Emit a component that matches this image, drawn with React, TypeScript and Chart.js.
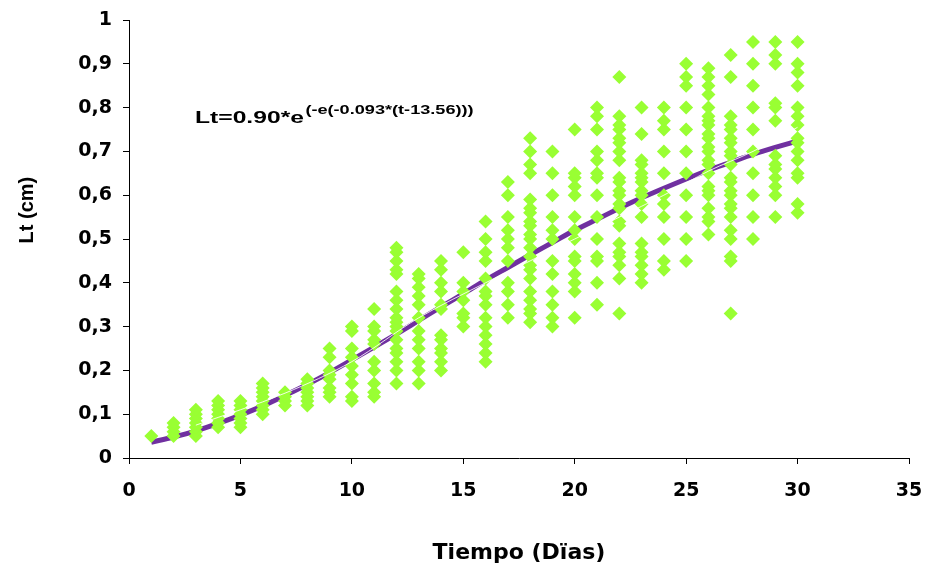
import React, { useEffect, useRef } from "react";
import { Chart, registerables } from "chart.js";

Chart.register(...registerables);

// ---- Data ----
const DAYS = [1, 2, 3, 4, 5, 6, 7, 8, 9, 10, 11, 12, 13, 14, 15, 16, 17, 18, 19, 20, 21, 22, 23, 24, 25, 26, 27, 28, 29, 30];

const day1 = [0.05];
const day2 = [0.05, 0.06, 0.07, 0.08];
const day3 = [0.05, 0.06, 0.07, 0.08, 0.09, 0.1, 0.11];
const day4 = [0.07, 0.08, 0.09, 0.1, 0.11, 0.12, 0.13];
const day5 = [0.07, 0.08, 0.09, 0.1, 0.11, 0.12, 0.13];
const day6 = [0.1, 0.11, 0.12, 0.13, 0.14, 0.15, 0.16, 0.17];
const day7 = [0.12, 0.13, 0.14, 0.15];
const day8 = [0.12, 0.13, 0.14, 0.15, 0.16, 0.17, 0.18];
const day9 = [0.14, 0.15, 0.16, 0.18, 0.19, 0.2, 0.23, 0.25];
const day10 = [0.13, 0.14, 0.17, 0.19, 0.21, 0.23, 0.25, 0.29, 0.3];
const day11 = [0.14, 0.15, 0.17, 0.2, 0.22, 0.26, 0.27, 0.29, 0.3, 0.34];
const day12 = [0.17, 0.2, 0.22, 0.24, 0.25, 0.27, 0.29, 0.3, 0.31, 0.32, 0.34, 0.36, 0.38, 0.42, 0.43, 0.45, 0.47, 0.48];
const day13 = [0.17, 0.2, 0.22, 0.25, 0.27, 0.29, 0.32, 0.35, 0.37, 0.39, 0.41, 0.42];
const day14 = [0.2, 0.22, 0.24, 0.25, 0.27, 0.28, 0.34, 0.35, 0.38, 0.4, 0.43, 0.45];
const day15 = [0.3, 0.32, 0.33, 0.36, 0.38, 0.4, 0.47];
const day16 = [0.22, 0.24, 0.26, 0.28, 0.3, 0.32, 0.35, 0.37, 0.38, 0.41, 0.45, 0.47, 0.5, 0.54];
const day17 = [0.32, 0.35, 0.38, 0.4, 0.45, 0.48, 0.5, 0.52, 0.55, 0.6, 0.63];
const day18 = [0.31, 0.33, 0.34, 0.36, 0.38, 0.41, 0.43, 0.44, 0.46, 0.48, 0.5, 0.51, 0.53, 0.54, 0.56, 0.57, 0.59, 0.65, 0.67, 0.7, 0.73];
const day19 = [0.3, 0.32, 0.35, 0.38, 0.42, 0.45, 0.5, 0.52, 0.55, 0.6, 0.65, 0.7];
const day20 = [0.32, 0.38, 0.4, 0.42, 0.45, 0.46, 0.5, 0.52, 0.55, 0.6, 0.62, 0.64, 0.65, 0.75];
const day21 = [0.35, 0.4, 0.45, 0.46, 0.5, 0.55, 0.6, 0.64, 0.65, 0.68, 0.7, 0.75, 0.78, 0.8];
const day22 = [0.33, 0.41, 0.44, 0.46, 0.47, 0.49, 0.53, 0.54, 0.57, 0.58, 0.6, 0.61, 0.63, 0.64, 0.68, 0.7, 0.72, 0.73, 0.75, 0.76, 0.78, 0.87];
const day23 = [0.4, 0.42, 0.44, 0.46, 0.47, 0.49, 0.55, 0.58, 0.6, 0.61, 0.63, 0.64, 0.65, 0.67, 0.68, 0.74, 0.8];
const day24 = [0.43, 0.45, 0.5, 0.55, 0.58, 0.6, 0.65, 0.7, 0.75, 0.77, 0.8];
const day25 = [0.45, 0.5, 0.55, 0.6, 0.65, 0.7, 0.75, 0.8, 0.85, 0.87, 0.9];
const day26 = [0.51, 0.54, 0.55, 0.57, 0.6, 0.61, 0.62, 0.65, 0.67, 0.68, 0.7, 0.71, 0.73, 0.74, 0.76, 0.77, 0.78, 0.8, 0.83, 0.85, 0.87, 0.89];
const day27 = [0.33, 0.45, 0.46, 0.5, 0.52, 0.55, 0.57, 0.58, 0.6, 0.61, 0.63, 0.64, 0.67, 0.69, 0.7, 0.72, 0.73, 0.75, 0.76, 0.78, 0.87, 0.92];
const day28 = [0.5, 0.55, 0.6, 0.65, 0.7, 0.75, 0.8, 0.85, 0.9, 0.95];
const day29 = [0.55, 0.6, 0.62, 0.64, 0.66, 0.67, 0.69, 0.77, 0.8, 0.81, 0.9, 0.92, 0.95];
const day30 = [0.56, 0.58, 0.64, 0.65, 0.68, 0.7, 0.72, 0.73, 0.76, 0.78, 0.8, 0.85, 0.88, 0.9, 0.95];

const OBSERVED = [
  day1, day2, day3, day4, day5, day6, day7, day8, day9, day10,
  day11, day12, day13, day14, day15, day16, day17, day18, day19, day20,
  day21, day22, day23, day24, day25, day26, day27, day28, day29, day30,
];

// Fitted (Gompertz) curve
const FIT_LT = [0.036, 0.048, 0.062, 0.079, 0.098, 0.119, 0.143, 0.168, 0.195, 0.224, 0.253, 0.283, 0.314, 0.345, 0.375, 0.406, 0.435, 0.464, 0.492, 0.52, 0.545, 0.57, 0.594, 0.616, 0.637, 0.657, 0.675, 0.693, 0.709, 0.724];

// Thin white trend line drawn over the curve
const TREND_DAYS = [3, 7, 10, 13, 16, 18, 20, 22, 24, 26, 28, 30];
const TREND_LT = [0.075, 0.148, 0.22, 0.32, 0.4, 0.45, 0.5, 0.55, 0.6, 0.655, 0.7, 0.755];

const X_TICKS = [0, 5, 10, 15, 20, 25, 30, 35];
const Y_TICKS = [0, 0.1, 0.2, 0.3, 0.4, 0.5, 0.6, 0.7, 0.8, 0.9, 1];

const X_TITLE = "Tiempo (Dïas)";
const Y_TITLE = "Lt (cm)";
const EQ_BASE = "Lt=0.90*e";
const EQ_EXP = "(-e(-0.093*(t-13.56)))";

const TICK_FONT = { family: "'DejaVu Sans', sans-serif", size: 19, weight: "bold" as const };

const textPlugin = {
  id: "customTexts",
  afterDraw(chart: any) {
    const ctx = chart.ctx as CanvasRenderingContext2D;
    const area = chart.chartArea;
    // y-axis title
    ctx.save();
    ctx.fillStyle = "#000";
    ctx.translate(27, area.top + (area.bottom - area.top) * 0.434);
    ctx.rotate(-Math.PI / 2);
    ctx.font = "bold 20px 'Liberation Sans', Arial, sans-serif";
    ctx.textAlign = "center";
    ctx.textBaseline = "middle";
    ctx.fillText(Y_TITLE, 0, 0);
    ctx.restore();

    // equation
    ctx.save();
    ctx.fillStyle = "#000";
    ctx.translate(195, 123);
    ctx.scale(1.45, 1);
    ctx.textAlign = "left";
    ctx.textBaseline = "alphabetic";
    ctx.font = "bold 17px 'Liberation Sans', Arial, sans-serif";
    ctx.fillText(EQ_BASE, 0, 0);
    const w = ctx.measureText(EQ_BASE).width;
    ctx.font = "bold 12.5px 'Liberation Sans', Arial, sans-serif";
    ctx.fillText(EQ_EXP, w + 1, -9);
    ctx.restore();
  },
};

function formatY(v: number): string {
  const r = Math.round(v * 10) / 10;
  if (r === 0) return "0";
  if (r === 1) return "1";
  return r.toFixed(1).replace(".", ",");
}

export default function App() {
  const canvasRef = useRef<HTMLCanvasElement | null>(null);

  useEffect(() => {
    document.body.style.margin = "0";
    const canvas = canvasRef.current;
    if (!canvas) return;

    const scatterData: { x: number; y: number }[] = [];
    OBSERVED.forEach((vals, i) => {
      vals.forEach((v) => scatterData.push({ x: DAYS[i], y: v }));
    });
    const fitData = DAYS.map((d, i) => ({ x: d, y: FIT_LT[i] }));
    const trendData = TREND_DAYS.map((d, i) => ({ x: d, y: TREND_LT[i] }));

    const chart = new Chart(canvas, {
      type: "scatter",
      data: {
        datasets: [
          {
            type: "scatter",
            label: "Lt observada",
            data: scatterData,
            pointStyle: "rectRot",
            pointRadius: 7,
            pointBackgroundColor: "#99ff33",
            pointBorderColor: "#99ff33",
            pointBorderWidth: 0,
            order: 2,
          },
          {
            type: "line",
            label: "Gompertz",
            data: fitData,
            borderColor: "#7030a0",
            borderWidth: 5,
            pointRadius: 0,
            fill: false,
            cubicInterpolationMode: "monotone",
            order: 3,
          } as any,
          {
            type: "line",
            label: "Tendencia",
            data: trendData,
            borderColor: "rgba(255,255,255,0.85)",
            borderWidth: 1,
            pointRadius: 0,
            fill: false,
            cubicInterpolationMode: "monotone",
            order: 1,
          } as any,
        ],
      },
      options: {
        responsive: false,
        animation: false,
        layout: { padding: { top: 20, right: 19, bottom: 0, left: 0 } },
        plugins: {
          legend: { display: false },
          tooltip: { enabled: false },
        },
        scales: {
          x: {
            type: "linear",
            min: 0,
            max: 35,
            afterBuildTicks: (s: any) => {
              s.ticks = X_TICKS.map((v) => ({ value: v }));
            },
            afterFit: (s: any) => {
              s.height = 109;
              s.paddingLeft = 0;
              s.paddingRight = 0;
            },
            ticks: {
              color: "#000",
              font: TICK_FONT,
              padding: 16,
              maxRotation: 0,
              autoSkip: false,
            },
            grid: { display: true, drawOnChartArea: false, drawTicks: true, tickLength: 6, color: "#000" },
            border: { display: true, color: "#000", width: 1 },
            title: {
              display: true,
              text: X_TITLE,
              color: "#000",
              font: { family: "'DejaVu Sans', sans-serif", size: 22, weight: "bold" },
              padding: { top: 0, bottom: 1 },
            },
          },
          y: {
            type: "linear",
            min: 0,
            max: 1,
            afterBuildTicks: (s: any) => {
              s.ticks = Y_TICKS.map((v) => ({ value: v }));
            },
            afterFit: (s: any) => {
              s.width = 129;
              s.paddingTop = 0;
              s.paddingBottom = 0;
            },
            ticks: {
              color: "#000",
              font: TICK_FONT,
              padding: 11,
              autoSkip: false,
              callback: (v: any) => formatY(Number(v)),
            },
            grid: { display: true, drawOnChartArea: false, drawTicks: true, tickLength: 6, color: "#000" },
            border: { display: true, color: "#000", width: 1 },
            title: { display: false },
          },
        },
      },
      plugins: [textPlugin],
    });

    return () => chart.destroy();
  }, []);

  return (
    <div style={{ width: 928, height: 567 }}>
      <canvas ref={canvasRef} width={928} height={567} style={{ display: "block" }} />
    </div>
  );
}
